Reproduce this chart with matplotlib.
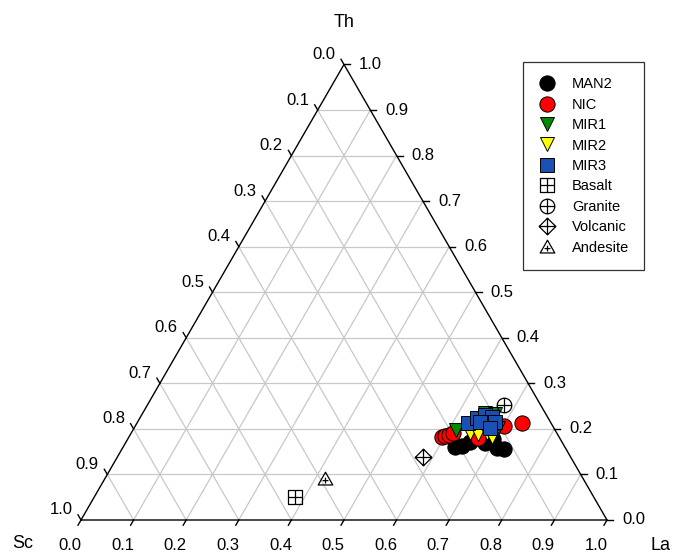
import numpy as np
import matplotlib
matplotlib.use("Agg")
import matplotlib.pyplot as plt
from matplotlib.path import Path

plt.rcParams['font.family'] = ['Liberation Sans', 'DejaVu Sans']

# Compositions as fractions (Th, La, Sc); each row sums to 1
man2_th = [0.160, 0.171, 0.169, 0.158, 0.156, 0.178, 0.163]
man2_la = [0.631, 0.654, 0.684, 0.712, 0.726, 0.694, 0.643]
man2_sc = [0.209, 0.175, 0.147, 0.130, 0.118, 0.128, 0.194]

nic_th = [0.182, 0.185, 0.187, 0.191, 0.180, 0.207, 0.213]
nic_la = [0.595, 0.600, 0.606, 0.612, 0.665, 0.701, 0.732]
nic_sc = [0.223, 0.215, 0.207, 0.197, 0.155, 0.092, 0.055]

mir1_th = [0.198, 0.235, 0.233, 0.202]
mir1_la = [0.614, 0.650, 0.671, 0.692]
mir1_sc = [0.188, 0.115, 0.096, 0.106]

mir2_th = [0.191, 0.189, 0.191, 0.182]
mir2_la = [0.644, 0.660, 0.676, 0.690]
mir2_sc = [0.165, 0.151, 0.133, 0.128]

mir3_th = [0.213, 0.224, 0.231, 0.226, 0.215, 0.215, 0.215, 0.202]
mir3_la = [0.629, 0.641, 0.653, 0.668, 0.666, 0.679, 0.651, 0.677]
mir3_sc = [0.158, 0.135, 0.116, 0.106, 0.119, 0.106, 0.134, 0.121]

# Reference rock compositions (Th, La, Sc)
basalt = (0.051, 0.382, 0.567)
granite = (0.253, 0.678, 0.069)
volcanic = (0.138, 0.581, 0.281)
andesite = (0.090, 0.419, 0.491)

ticks = [0.0, 0.1, 0.2, 0.3, 0.4, 0.5, 0.6, 0.7, 0.8, 0.9, 1.0]
tick_labels = [f"{t:.1f}" for t in ticks]

H = np.sqrt(3) / 2


def to_xy(th, la):
    th = np.asarray(th, dtype=float)
    la = np.asarray(la, dtype=float)
    return la + th / 2, th * H


fig = plt.figure(figsize=(6.74, 5.53), dpi=100)
ax = fig.add_axes([0, 0, 1, 1])
PX = 526.0  # pixels per unit side
ax.set_xlim(-81 / PX, (674 - 81) / PX)
ax.set_ylim(-33 / PX, (553 - 33) / PX)
ax.set_aspect('equal')
ax.axis('off')

grid_kw = dict(color='#c8c8c8', lw=0.9, zorder=1)
for v in ticks[1:-1]:
    # constant Th (horizontal)
    ax.plot([v / 2, 1 - v / 2], [v * H, v * H], **grid_kw)
    # constant La (parallel to Sc-Th edge)
    ax.plot([v, v + (1 - v) / 2], [0, (1 - v) * H], **grid_kw)
    # constant Sc (parallel to La-Th edge)
    ax.plot([1 - v, (1 - v) / 2], [0, (1 - v) * H], **grid_kw)

# Triangle frame
ax.plot([0, 1, 0.5, 0], [0, 0, H, 0], color='black', lw=1.0, zorder=2,
        solid_joinstyle='miter')

tl = 6 / PX
fs_tick = 12
for v, lab in zip(ticks, tick_labels):
    # bottom axis: La
    x0, y0 = v, 0.0
    ax.plot([x0, x0 - 0.5 * tl], [y0, y0 - H * tl], color='black', lw=1.0, zorder=2)
    ax.text(x0 - 11 / PX, y0 - 25 / PX, lab, ha='center', va='center', fontsize=fs_tick)
    # right axis: Th
    x0, y0 = 1 - v / 2, v * H
    ax.plot([x0, x0 + tl], [y0, y0], color='black', lw=1.0, zorder=2)
    ax.text(x0 + 15 / PX, y0, lab, ha='left', va='center', fontsize=fs_tick)
    # left axis: Sc
    x0, y0 = (1 - v) / 2, (1 - v) * H
    ax.plot([x0, x0 - 0.5 * tl], [y0, y0 + H * tl], color='black', lw=1.0, zorder=2)
    ax.text(x0 - 20 / PX, y0 + 10 / PX, lab, ha='center', va='center', fontsize=fs_tick)

ax.text(0.5, (520 - 23) / PX, 'Th', ha='center', va='center', fontsize=13)
ax.text((23 - 81) / PX, (520 - 543) / PX, 'Sc', ha='center', va='center', fontsize=13)
ax.text((660 - 81) / PX, (520 - 545) / PX, 'La', ha='center', va='center', fontsize=13)

# Marker shapes with an inner cross
cross = Path([(-1, 0), (1, 0), (0, -1), (0, 1)],
             [Path.MOVETO, Path.LINETO, Path.MOVETO, Path.LINETO])
sq = Path([(-1, -1), (1, -1), (1, 1), (-1, 1), (-1, -1)],
          [Path.MOVETO, Path.LINETO, Path.LINETO, Path.LINETO, Path.CLOSEPOLY])
dia = Path([(0, -1), (1, 0), (0, 1), (-1, 0), (0, -1)],
           [Path.MOVETO, Path.LINETO, Path.LINETO, Path.LINETO, Path.CLOSEPOLY])
tri = Path([(0, 1), (-1, -0.75), (1, -0.75), (0, 1)],
           [Path.MOVETO, Path.LINETO, Path.LINETO, Path.CLOSEPOLY])
small_cross = Path([(-0.4, -0.15), (0.4, -0.15), (0, -0.55), (0, 0.25)],
                   [Path.MOVETO, Path.LINETO, Path.MOVETO, Path.LINETO])
sq_plus = Path.make_compound_path(sq, cross)
circ_plus = Path.make_compound_path(Path.unit_circle(), cross)
dia_plus = Path.make_compound_path(dia, cross)
tri_plus = Path.make_compound_path(tri, small_cross)

handles = []
series = [
    ('MAN2', man2_th, man2_la, 'o', 'black', 11),
    ('NIC', nic_th, nic_la, 'o', '#ff0000', 11),
    ('MIR1', mir1_th, mir1_la, 'v', '#008a00', 10),
    ('MIR2', mir2_th, mir2_la, 'v', '#ffff00', 10),
    ('MIR3', mir3_th, mir3_la, 's', '#1a4fb4', 10),
]
for i, (name, th, la, mk, col, ms) in enumerate(series):
    x, y = to_xy(th, la)
    h, = ax.plot(x, y, linestyle='none', marker=mk, markersize=ms,
                 markerfacecolor=col, markeredgecolor='black', markeredgewidth=0.7,
                 zorder=5 + i, label=name)
    handles.append(h)

refs = [
    ('Basalt', basalt, sq_plus, 9.5),
    ('Granite', granite, circ_plus, 10.5),
    ('Volcanic', volcanic, dia_plus, 12),
    ('Andesite', andesite, tri_plus, 10.5),
]
for name, comp, mk, ms in refs:
    x, y = to_xy([comp[0]], [comp[1]])
    h, = ax.plot(x, y, linestyle='none', marker=mk, markersize=ms,
                 markerfacecolor='none', markeredgecolor='black', markeredgewidth=0.9,
                 zorder=12, label=name)
    handles.append(h)

leg = ax.legend(handles=handles, loc='upper left',
                bbox_to_anchor=(523 / 674, 1 - 62 / 553),
                bbox_transform=fig.transFigure,
                fontsize=10.5, frameon=True, fancybox=False, edgecolor='black',
                labelspacing=0.44, borderpad=1.05, handletextpad=1.1,
                handlelength=1.2, borderaxespad=0.0, markerscale=1.0)
leg.get_frame().set_linewidth(0.9)
leg.set_zorder(20)

fig.savefig('out.png', dpi=100)
